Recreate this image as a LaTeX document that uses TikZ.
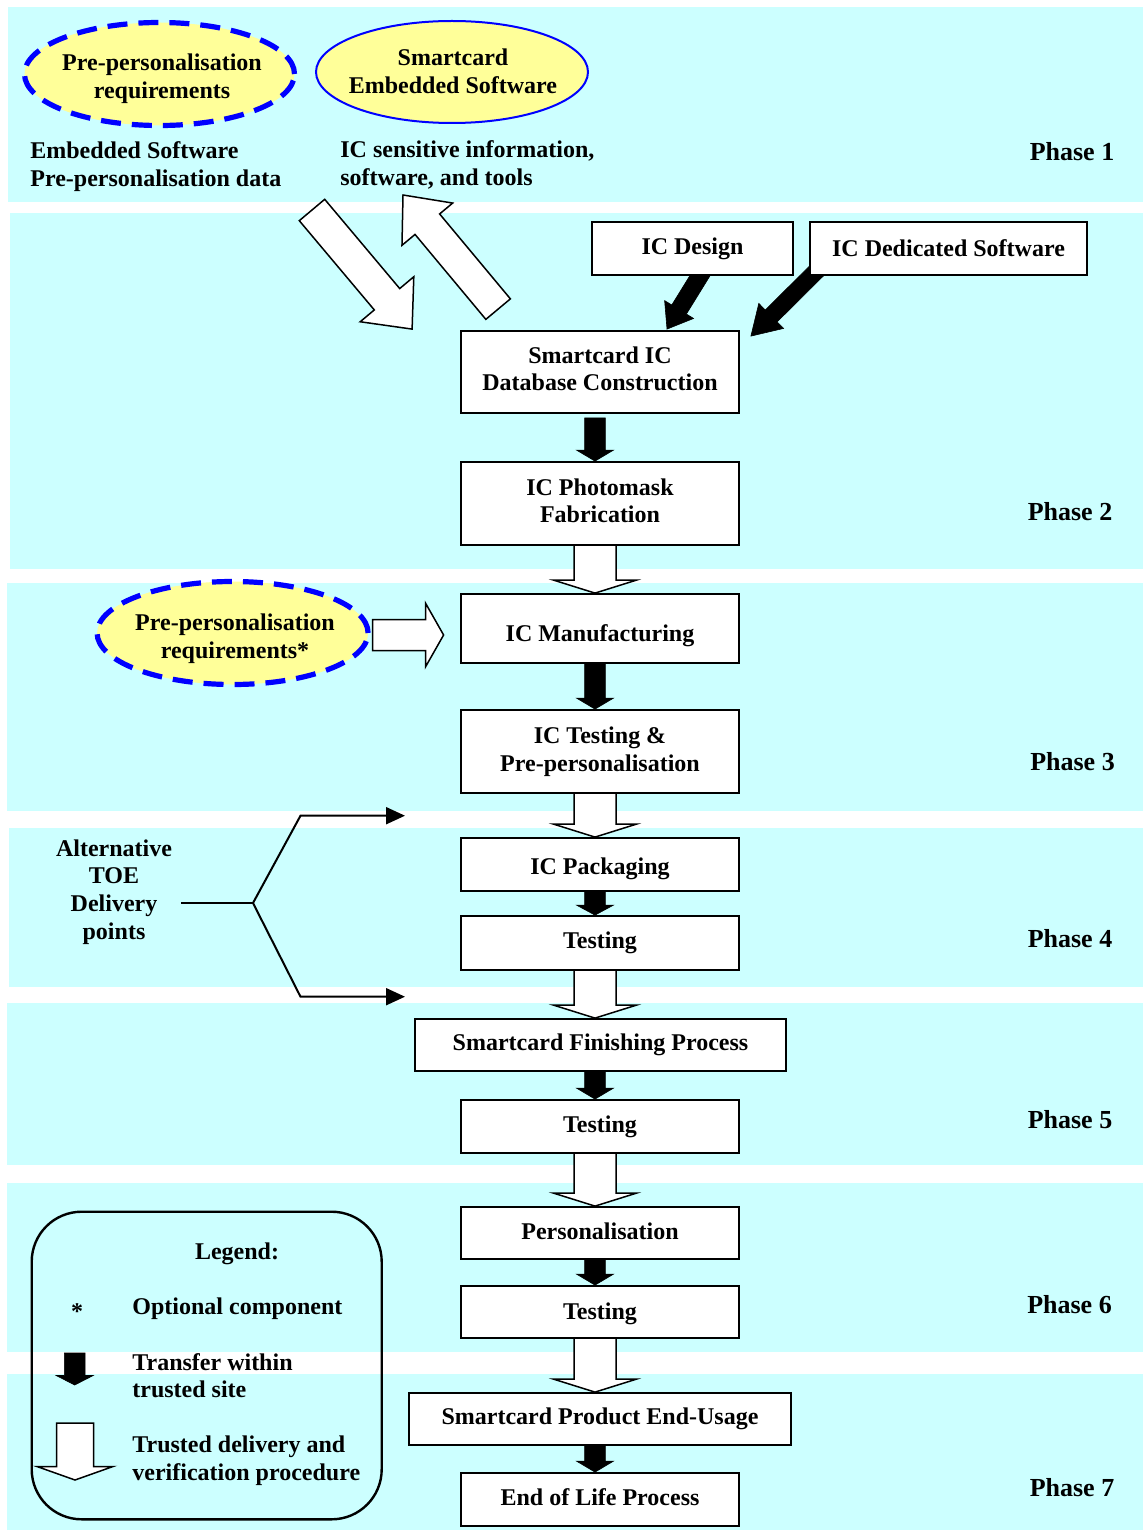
\documentclass[tikz,border=0pt]{standalone}
\usepackage{fontspec}
\setmainfont{Liberation Serif}
\usetikzlibrary{shapes.geometric,arrows.meta,calc}
\pgfdeclarelayer{bg}
\pgfdeclarelayer{mid}
\pgfsetlayers{bg,mid,main}
\definecolor{band}{RGB}{204,255,255}
\definecolor{ellfill}{RGB}{255,255,153}
\definecolor{ellblue}{RGB}{0,0,255}
% #1 style, #2 start, #3 tip, #4 shaft half width, #5 head half width, #6 head length
\newcommand\blockarr[6][]{%
  \coordinate (ba-s) at #2;
  \coordinate (ba-e) at #3;
  \coordinate (ba-c) at ($(ba-e)!#6!(ba-s)$);
  \draw[#1] ($(ba-s)!#4!90:(ba-e)$) -- ($(ba-c)!#4!-90:(ba-s)$) -- ($(ba-c)!#5!-90:(ba-s)$)
    -- (ba-e) -- ($(ba-c)!#5!90:(ba-s)$) -- ($(ba-c)!#4!90:(ba-s)$) -- ($(ba-s)!#4!-90:(ba-e)$) -- cycle;
}
\newcommand\lowertext[2]{\raisebox{-#1}[\height][\depth]{#2}}
\tikzset{
  txt/.style={font=\bfseries\fontsize{12}{13.8}\selectfont, inner sep=0pt, align=center},
  box/.style={txt, draw, fill=white, line width=0.9pt, minimum width=139pt},
  phase/.style={font=\bfseries\fontsize{13}{15}\selectfont, inner sep=0pt},
  ell/.style={ellipse, fill=ellfill, draw=ellblue, inner sep=0pt},
  dashell/.style={ell, line width=2.6pt, dash pattern=on 10pt off 5.5pt},
  blackarr/.style={fill=black, draw=black, line width=0.3pt, line join=miter},
  hollowarr/.style={fill=white, draw=black, line width=0.75pt, line join=miter},
  bracket/.style={line width=1pt},
}
\begin{document}
\begin{tikzpicture}[x=0.5pt,y=-0.5pt]
\useasboundingbox (0,0) rectangle (1143,1530);
\begin{pgfonlayer}{bg}
  \fill[white] (0,0) rectangle (1143,1530);
  \fill[band] (8,7) rectangle (1143,202);
  \fill[band] (10,213) rectangle (1143,569);
  \fill[band] (7,583) rectangle (1143,811);
  \fill[band] (9,828) rectangle (1143,987);
  \fill[band] (7,1003) rectangle (1143,1165);
  \fill[band] (7,1183) rectangle (1143,1352);
  \fill[band] (7,1374) rectangle (1143,1530);
\end{pgfonlayer}

% phase labels
\node[phase] (p1) at (1072,152) {Phase 1};
\node[phase] (p2) at (1070,512) {Phase 2};
\node[phase] (p3) at (1072.5,762) {Phase 3};
\node[phase] (p4) at (1070,939) {Phase 4};
\node[phase] (p5) at (1070,1120) {Phase 5};
\node[phase] (p6) at (1069.5,1305) {Phase 6};
\node[phase] (p7) at (1072,1488) {Phase 7};

% ellipses
\node[dashell, minimum width=135pt, minimum height=51.5pt] (pr1) at (159.5,74) {};
\node[txt] (pr1t) at (162,79) {Pre-personalisation\\requirements};
\node[ell, line width=1pt, minimum width=136pt, minimum height=51pt] (sw) at (452,72) {};
\node[txt] (swt) at (453,71) {Smartcard\\Embedded Software};
\node[dashell, minimum width=135.5pt, minimum height=51.5pt] (pr3) at (232.6,633) {};
\node[txt] (pr3t) at (235,639) {Pre-personalisation\\requirements*};

% free texts
\node[txt, anchor=west, align=left] (esd) at (30,166.5) {Embedded Software\\Pre-personalisation data};
\node[txt, anchor=west, align=left] (ics) at (340,165) {IC sensitive information,\\software, and tools};
\node[txt] (alt) at (114,892) {Alternative\\TOE\\Delivery\\points};

% boxes
\node[box, minimum width=100.5pt, minimum height=26.5pt] (design) at (692.5,248.5) {IC Design};
\node[box, minimum width=138.5pt, minimum height=26.5pt] (dedsw) at (948.5,248.5) {IC Dedicated Software};
\node[box, minimum height=41pt] (db) at (600,372) {\lowertext{-0.25pt}{\begin{tabular}{@{}c@{}}Smartcard IC\\Database Construction\end{tabular}}};
\node[box, minimum height=41.5pt] (photo) at (600,503.5) {\lowertext{0pt}{\begin{tabular}{@{}c@{}}IC Photomask\\Fabrication\end{tabular}}};
\node[box, minimum height=34.5pt] (manuf) at (600,628.5) {\lowertext{3.5pt}{IC Manufacturing}};
\node[box, minimum height=41.5pt] (test1) at (600,751.5) {IC Testing \&\\Pre-personalisation};
\node[box, minimum height=26.5pt] (pack) at (600,864.5) {\lowertext{2pt}{IC Packaging}};
\node[box, minimum height=27pt] (test2) at (600,943) {Testing};
\node[box, minimum width=185.5pt, minimum height=26pt] (finish) at (600.5,1045) {Smartcard Finishing Process};
\node[box, minimum height=26.5pt] (test3) at (600,1126.5) {Testing};
\node[box, minimum height=26pt] (perso) at (600,1233) {\lowertext{-1pt}{Personalisation}};
\node[box, minimum height=26pt] (test4) at (600,1312) {\lowertext{1pt}{Testing}};
\node[box, minimum width=191pt, minimum height=26pt] (enduse) at (600,1419) {Smartcard Product End-Usage};
\node[box, minimum height=26.5pt] (eol) at (600,1499.5) {\lowertext{-1pt}{End of Life Process}};

% legend
\node[draw, line width=1.2pt, rounded corners=25pt, minimum width=175pt, minimum height=153.8pt, inner sep=0pt] (legend) at (206.7,1365.5) {};
\node[txt] (legt) at (237,1254) {Legend:};
\node[txt] (star) at (77,1312) {*};
\node[txt, anchor=west, align=left] (leg1) at (132,1309) {Optional component};
\node[txt, anchor=west, align=left] (leg2) at (132,1375.5) {Transfer within\\trusted site};
\node[txt, anchor=west, align=left] (leg3) at (132,1460.5) {Trusted delivery and\\verification procedure};

% named free ends
\coordinate (esdtail) at (312,210);
\coordinate (icstip) at (403,195);
\coordinate (altstart) at (181,903);
\coordinate (fork) at (253,903);
\coordinate (ubend) at (300.5,815.7);
\coordinate (utip) at (405,815.7);
\coordinate (lbend) at (300.5,996.7);
\coordinate (ltip) at (405,996.7);
\coordinate (lbs) at (74.7,1353);
\coordinate (lbe) at (74.7,1385);
\coordinate (lhs) at (75,1423);
\coordinate (lhe) at (75,1480);

\begin{pgfonlayer}{mid}
  % diagonal hollow arrows
  \blockarr[hollowarr]{(esdtail)}{($(db.north west)+(-48,-1)$)}{8.3pt}{17.5pt}{19.5pt}
  \blockarr[hollowarr]{($(db.north west)+(38,-21)$)}{(icstip)}{8pt}{16.5pt}{19pt}
  % diagonal black arrows
  \blockarr[blackarr]{($(design.south)+(13.5,-10)$)}{($(db.north)+(67,-1)$)}{4.3pt}{8.5pt}{11.5pt}
  \blockarr[blackarr]{($(dedsw.south west)+(17,-14.5)$)}{($(db.north east)+(11,6)$)}{4.2pt}{8.8pt}{14.3pt}
  % vertical black arrows
  \blockarr[blackarr]{($(db.south)+(-5,4)$)}{($(photo.north)+(-5,0)$)}{5.2pt}{9.25pt}{5.5pt}
  \blockarr[blackarr]{($(manuf.south)+(-5,-3)$)}{($(test1.north)+(-5,0)$)}{5.2pt}{9.25pt}{5.5pt}
  \blockarr[blackarr]{($(pack.south)+(-5,-3)$)}{($(test2.north)+(-5,0)$)}{5.2pt}{9.25pt}{5pt}
  \blockarr[blackarr]{($(finish.south)+(-5.5,-3)$)}{($(test3.north)+(-5,0)$)}{5.2pt}{9.25pt}{5.5pt}
  \blockarr[blackarr]{($(perso.south)+(-5,-3)$)}{($(test4.north)+(-5,0)$)}{5.2pt}{9.25pt}{5.5pt}
  \blockarr[blackarr]{($(enduse.south)+(-5,-3)$)}{($(eol.north)+(-5,0)$)}{5.2pt}{9.25pt}{5.5pt}
  % vertical hollow arrows
  \blockarr[hollowarr]{($(photo.south)+(-5,-3)$)}{($(manuf.north)+(-5,0)$)}{10.5pt}{20.75pt}{6.5pt}
  \blockarr[hollowarr]{($(test1.south)+(-5,-3)$)}{($(pack.north)+(-5,0)$)}{10.5pt}{20.75pt}{6.5pt}
  \blockarr[hollowarr]{($(test2.south)+(-5,-3)$)}{($(finish.north)+(-5.5,0)$)}{10.5pt}{20.75pt}{6.5pt}
  \blockarr[hollowarr]{($(test3.south)+(-5,-3)$)}{($(perso.north)+(-5,0)$)}{10.5pt}{20.75pt}{6.5pt}
  \blockarr[hollowarr]{($(test4.south)+(-5,-3)$)}{($(enduse.north)+(-5,0)$)}{10.5pt}{20.75pt}{6.5pt}
  % ellipse to manufacturing
  \blockarr[hollowarr]{($(pr3.east)+(2,2)$)}{($(manuf.west)+(-16.5,6.5)$)}{7.75pt}{15.85pt}{9pt}
  % legend arrows
  \blockarr[blackarr]{(lbs)}{(lbe)}{5.15pt}{9.25pt}{4.75pt}
  \blockarr[hollowarr]{(lhs)}{(lhe)}{9.25pt}{19pt}{6.75pt}
\end{pgfonlayer}

% alternative delivery bracket
\draw[bracket] (altstart) -- (fork);
\draw[bracket, line join=miter, -{Triangle[length=9.5pt,width=8.5pt]}] (fork) -- (ubend) -- (utip);
\draw[bracket, line join=miter, -{Triangle[length=9.5pt,width=8.5pt]}] (fork) -- (lbend) -- (ltip);
\end{tikzpicture}
\end{document}
